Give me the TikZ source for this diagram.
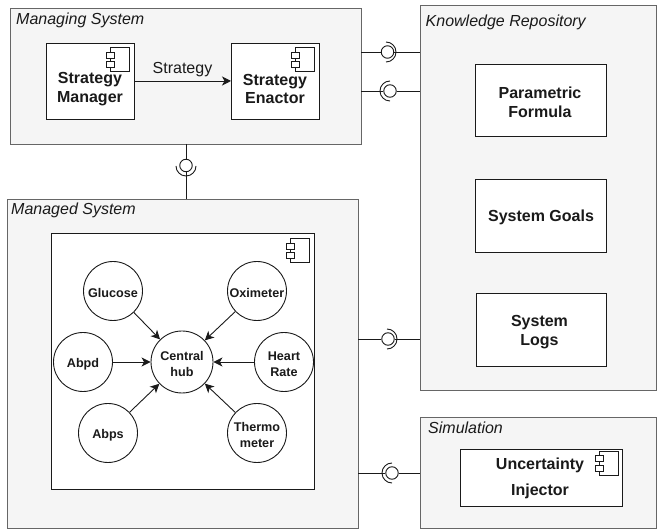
\documentclass[tikz,border=0pt]{standalone}
\usepackage{fontspec}
\setmainfont{Liberation Sans}
\usetikzlibrary{arrows.meta}
\definecolor{pane}{HTML}{F5F5F5}
\definecolor{edgegray}{HTML}{666666}
\definecolor{ink}{HTML}{1A1A1A}
\tikzset{
  x=1pt,y=-1pt,
  pane/.style={draw=edgegray,fill=pane,line width=0.9pt},
  panelabel/.style={font=\fontsize{16}{19}\selectfont\itshape,anchor=west,text=ink,inner sep=0pt},
  whitebox/.style={draw=ink,fill=white,line width=0.9pt},
  boxlabel/.style={font=\fontsize{16}{18.7}\selectfont\bfseries,align=center,text=ink,inner sep=0pt},
  sensor/.style={circle,draw=ink,fill=white,line width=0.9pt,minimum size=59pt,inner sep=0pt,
     label={[yshift=-2pt,inner sep=0pt,align=center,font=\fontsize{12.6}{16}\selectfont\bfseries,text=ink]center:#1}},
  ball/.style={circle,draw=ink,line width=0.9pt,minimum size=12.5pt,inner sep=0pt},
  wire/.style={draw=ink,line width=0.9pt},
  flow/.style={draw=ink,line width=0.9pt,-{Stealth[length=9pt,width=9pt,inset=2.5pt]}},
}
\newcommand{\compicon}[2]{%
  \draw[ink,line width=0.7pt,fill=white] (#1+4,#2) rectangle (#1+23,#2+24);
  \draw[ink,line width=0.7pt,fill=white] (#1,#2+4.5) rectangle (#1+8,#2+10.5);
  \draw[ink,line width=0.7pt,fill=white] (#1,#2+14) rectangle (#1+8,#2+20);
}
\begin{document}
\begin{tikzpicture}
\useasboundingbox (0,0) rectangle (657,529);
\fill[white] (0,0) rectangle (657,529);
% panes
\path[pane] (10,8) rectangle (361,144);
\path[pane] (420,5) rectangle (656,390);
\path[pane] (7,199) rectangle (358,528);
\path[pane] (420,417) rectangle (656,528);
\coordinate (mgTop) at (186,199);
\coordinate (mgBottom) at (186,144);
\coordinate (mR) at (361,52);
\coordinate (mR2) at (361,91);
\coordinate (kL) at (420,52);
\coordinate (kL2) at (420,91);
\coordinate (sR) at (358,339);
\coordinate (kL3) at (420,339);
\coordinate (sR2) at (358,473);
\coordinate (simL) at (420,473);
\node[panelabel] (l1) at (16,20.5) {Managing System};
\node[panelabel] (l2) at (425.5,22) {Knowledge Repository};
\node[panelabel] (l3) at (11,210.5) {Managed System};
\node[panelabel] (l4) at (428,427.5) {Simulation};
% connectors with ball and socket
\node[ball] (b1) at (186,165.5) {};
\draw[wire] (mgBottom) -- (b1);
\draw[wire] (b1) -- (mgTop);
\draw[wire] (176,166) arc[start angle=180,end angle=360,radius=10pt];
\node[ball] (b2) at (387.5,52) {};
\draw[wire] (mR) -- (b2);
\draw[wire] (b2) -- (kL);
\draw[wire] (386,42) arc[start angle=90,end angle=-90,radius=10pt];
\node[ball] (b3) at (390,91) {};
\draw[wire] (mR2) -- (b3);
\draw[wire] (b3) -- (kL2);
\draw[wire] (390,81) arc[start angle=90,end angle=270,radius=10pt];
\node[ball] (b4) at (388,339) {};
\draw[wire] (sR) -- (b4);
\draw[wire] (b4) -- (kL3);
\draw[wire] (387,329) arc[start angle=90,end angle=-90,radius=10pt];
\node[ball] (b5) at (392,473) {};
\draw[wire] (sR2) -- (b5);
\draw[wire] (b5) -- (simL);
\draw[wire] (392,463) arc[start angle=90,end angle=270,radius=10pt];
% strategy
\path[whitebox] (46,43) rectangle (134,119);
\coordinate (smE) at (134,81);
\compicon{106.5}{47.5}
\node[boxlabel] (sm) at (90,89) {Strategy\\Manager};
\path[whitebox] (231,43) rectangle (319,119);
\coordinate (seW) at (231,81);
\compicon{291}{47.5}
\node[boxlabel] (se) at (275,89) {Strategy\\Enactor};
\draw[flow] (smE) -- node[above=4pt,inner sep=0pt,font=\fontsize{16}{19}\selectfont,text=ink] {Strategy} (seW);
% knowledge
\path[whitebox] (475,64) rectangle (606,136);
\node[boxlabel] (pf) at (540,102) {Parametric\\Formula};
\path[whitebox] (475,179) rectangle (606,252);
\node[boxlabel] (sg) at (541,217) {System Goals};
\path[whitebox] (476,293) rectangle (606,366);
\node[boxlabel] (sl) at (539.5,332) {System\\Logs};
% managed inner
\path[whitebox] (51,233) rectangle (314,489);
\compicon{286.5}{238.5}
\node[sensor={Central\\hub},minimum size=62pt] (hub) at (182,362) {};
\node[sensor={Glucose}] (glu) at (113,291) {};
\node[sensor={Oximeter}] (oxi) at (257,291) {};
\node[sensor={Abpd}] (abpd) at (83,362) {};
\node[sensor={Heart\\Rate}] (hr) at (284,362) {};
\node[sensor={Abps}] (abps) at (108,433) {};
\node[sensor={Thermo\\meter}] (th) at (257,433) {};
\foreach \s in {glu,oxi,abpd,hr,abps,th} \draw[flow] (\s) -- (hub);
% simulation
\path[whitebox] (460,449) rectangle (622,506);
\compicon{595.5}{451}
\node[boxlabel,font=\fontsize{16}{26}\selectfont\bfseries] (ui) at (540,478) {Uncertainty\\Injector};
\end{tikzpicture}
\end{document}
